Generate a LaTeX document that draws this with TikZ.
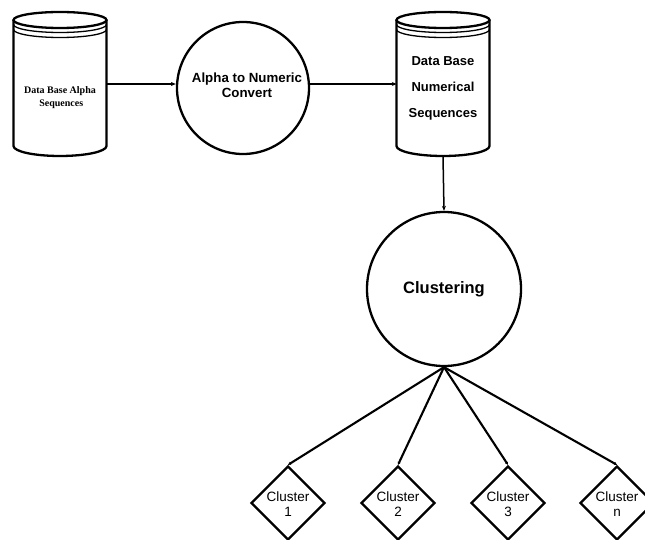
\documentclass[tikz,border=0pt]{standalone}
\usepackage{fontspec}
\setmainfont{Liberation Sans}
\newfontfamily\timesfont{Liberation Serif}
\usetikzlibrary{shapes.geometric,arrows.meta}
\tikzset{
  shp/.style={draw=black,line width=2.3pt},
  arr/.style={draw=black,line width=1.5pt,-{Stealth[length=5pt,width=4pt]}},
  link/.style={draw=black,line width=2.1pt,-{Stealth[length=3pt,width=3pt]}},
  proc/.style={circle,shp,inner sep=0pt},
  clus/.style={diamond,shp,minimum width=74pt,minimum height=74pt,inner sep=0pt},
  ghost/.style={rectangle,inner sep=0pt},
}
\begin{document}
\begin{tikzpicture}[x=1pt,y=-1pt]
\useasboundingbox (0,0) rectangle (645,540);
% cylinders: invisible anchor nodes
\node[ghost,minimum width=93pt,minimum height=144pt] (cylA) at (60,84) {};
\node[ghost,minimum width=92pt,minimum height=144pt] (cylB) at (443,84) {};
\foreach \cx in {60,443}{
  \draw[shp] (\cx-46.5,20) -- (\cx-46.5,146) arc[start angle=180,end angle=360,x radius=46.5,y radius=-10] -- (\cx+46.5,20);
  \draw[shp] (\cx,20) ellipse[x radius=46.5,y radius=8];
  \draw[line width=1.3pt] (\cx-46.5,24.5) arc[start angle=180,end angle=360,x radius=46.5,y radius=-8];
  \draw[line width=1.3pt] (\cx-46.5,29.5) arc[start angle=180,end angle=360,x radius=46.5,y radius=-8];
}
\node[align=center,font=\timesfont\bfseries\fontsize{10}{13}\selectfont] (tA) at (60,98) {Data Base Alpha\\ \ Sequences};
\node[align=center,font=\bfseries\fontsize{13}{26}\selectfont] (tB) at (443,88.5) {Data Base\\Numerical\\Sequences};
% processes
\node[proc,minimum size=132pt] (conv) at (243,88) {};
\node[align=center,font=\bfseries\fontsize{13.3}{15.5}\selectfont] (tconv) at (247,85) {Alpha to Numeric\\Convert};
\node[proc,minimum size=154pt,font=\bfseries\fontsize{16.5}{20}\selectfont] (clust) at (444,289) {Clustering};
% clusters
\foreach \i/\x/\l in {1/288/1,2/398/2,3/508/3,4/617/n}{
  \node[clus] (d\i) at (\x,503) {};
  \node[align=center,font=\fontsize{13.5}{15}\selectfont] (t\i) at (\x,504) {Cluster\\\l};
}
% connectors
\draw[arr] (cylA.east) -- (cylA.east -| conv.west);
\draw[arr] (conv.east |- cylB.west) -- (cylB.west);
\draw[arr] (cylB.south) -- (clust.north);
\foreach \i in {1,2,3,4}{
  \draw[link] (clust.south) -- (d\i.north);
}
\end{tikzpicture}
\end{document}
